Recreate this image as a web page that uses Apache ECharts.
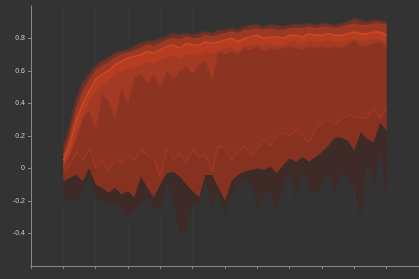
<!DOCTYPE html>
<html>
<head>
<meta charset="utf-8">
<script src="https://cdn.jsdelivr.net/npm/echarts@6/dist/echarts.min.js"></script>
<style>
html,body{margin:0;padding:0;background:#333333;}
#chart{width:419px;height:279px;}
</style>
</head>
<body>
<div id="chart"></div>
<script>
// x-axis categories (training steps), axis spans 0..120
const xCategories = [0,2,4,6,8,10,12,14,16,18,20,22,24,26,28,30,32,34,36,38,40,42,44,46,48,50,52,54,56,58,60,62,64,66,68,70,72,74,76,78,80,82,84,86,88,90,92,94,96,98,100,102,104,106,108,110,112,114,116,118,120];
// steps that carry data
const steps = [10,12,14,16,18,20,22,24,26,28,30,32,34,36,38,40,42,44,46,48,50,52,54,56,58,60,62,64,66,68,70,72,74,76,78,80,82,84,86,88,90,92,94,96,98,100,102,104,106,108,110];

// quantile-like lines, from top (max) to bottom (min)
const maxLine = [0.12,0.26,0.42,0.52,0.58,0.63,0.66,0.68,0.71,0.72,0.73,0.75,0.77,0.78,0.78,0.80,0.81,0.83,0.82,0.83,0.82,0.83,0.84,0.83,0.85,0.85,0.86,0.85,0.87,0.88,0.88,0.87,0.88,0.88,0.87,0.88,0.89,0.88,0.89,0.88,0.89,0.89,0.88,0.89,0.90,0.92,0.91,0.90,0.91,0.91,0.90];
const upperLine = [0.08,0.20,0.36,0.47,0.54,0.60,0.63,0.65,0.68,0.70,0.71,0.72,0.74,0.76,0.75,0.77,0.79,0.80,0.79,0.81,0.80,0.80,0.82,0.81,0.82,0.83,0.84,0.83,0.85,0.85,0.86,0.85,0.86,0.85,0.85,0.86,0.86,0.86,0.87,0.86,0.87,0.87,0.86,0.87,0.88,0.89,0.88,0.88,0.89,0.89,0.88];
const brightLine = [0.05,0.15,0.30,0.40,0.48,0.55,0.58,0.60,0.64,0.66,0.68,0.69,0.70,0.72,0.71,0.73,0.75,0.76,0.74,0.77,0.76,0.76,0.78,0.77,0.78,0.79,0.80,0.78,0.80,0.81,0.82,0.80,0.81,0.81,0.80,0.82,0.82,0.81,0.83,0.82,0.82,0.83,0.82,0.82,0.83,0.84,0.83,0.83,0.84,0.84,0.82];
const innerLine = [0.02,0.10,0.22,0.33,0.42,0.48,0.52,0.55,0.58,0.60,0.62,0.63,0.64,0.66,0.65,0.67,0.69,0.70,0.68,0.71,0.70,0.70,0.72,0.71,0.73,0.74,0.75,0.73,0.76,0.76,0.77,0.76,0.77,0.76,0.76,0.78,0.78,0.77,0.79,0.78,0.78,0.79,0.78,0.78,0.79,0.80,0.79,0.79,0.80,0.80,0.78];
const bodyTop = [0.00,0.08,0.18,0.30,0.36,0.24,0.45,0.42,0.30,0.50,0.40,0.56,0.58,0.52,0.58,0.50,0.60,0.55,0.60,0.63,0.58,0.64,0.66,0.54,0.72,0.70,0.72,0.70,0.74,0.73,0.75,0.72,0.74,0.73,0.74,0.75,0.74,0.73,0.75,0.74,0.75,0.74,0.75,0.74,0.76,0.79,0.75,0.76,0.77,0.78,0.74];
const lowerMid = [-0.02,0.02,0.10,0.05,0.12,0.00,0.05,-0.02,0.06,0.03,0.08,0.05,0.12,0.08,0.06,-0.06,0.12,0.06,0.09,0.04,0.12,0.07,0.08,-0.02,0.14,0.12,0.05,0.10,0.14,0.08,0.12,0.18,0.14,0.20,0.22,0.20,0.24,0.20,0.16,0.24,0.28,0.30,0.27,0.30,0.33,0.32,0.31,0.31,0.37,0.31,0.37];
const lowLine = [-0.08,-0.06,-0.04,-0.08,0.00,-0.10,-0.12,-0.15,-0.12,-0.16,-0.14,-0.18,-0.05,-0.12,-0.18,-0.10,-0.03,-0.02,-0.05,-0.10,-0.14,-0.18,-0.04,-0.04,-0.12,-0.20,-0.08,-0.04,-0.02,-0.01,0.00,-0.01,0.01,-0.03,0.02,0.06,0.04,0.07,0.04,0.07,0.10,0.14,0.19,0.19,0.17,0.11,0.22,0.18,0.16,0.28,0.23];
const minLine = [-0.20,-0.19,-0.20,-0.16,-0.04,-0.18,-0.20,-0.24,-0.22,-0.25,-0.30,-0.26,-0.22,-0.18,-0.24,-0.26,-0.08,-0.20,-0.41,-0.38,-0.21,-0.22,-0.07,-0.24,-0.15,-0.30,-0.16,-0.12,-0.07,-0.09,-0.24,-0.16,-0.14,-0.26,-0.10,-0.02,-0.18,-0.01,-0.12,-0.16,-0.10,-0.03,-0.15,-0.02,-0.05,-0.12,-0.30,0.05,-0.12,0.13,-0.22];

const yTicks = [-0.6,-0.4,-0.2,0,0.2,0.4,0.6,0.8,1.0];

const lines = [minLine, lowLine, lowerMid, bodyTop, innerLine, brightLine, upperLine, maxLine];
const fills = [null, '#3e2b27', '#873221', '#8c3422', '#a43a23', '#b73d21', '#9b3924', '#6f3427'];
const strokes = [null,
  {color:'#3e2b27', width:0, opacity:0},
  {color:'#a53820', width:1.2, opacity:1},
  {color:'#9c3823', width:1, opacity:1},
  {color:'#b63e22', width:1.2, opacity:1},
  {color:'#cf4723', width:1.5, opacity:1},
  {color:'#a83c25', width:1, opacity:1},
  {color:'rgba(110,50,38,0.55)', width:2.5, opacity:1}
];

const series = lines.map((ln, k) => {
  const data = xCategories.map(c => {
    const i = steps.indexOf(c);
    if (i < 0) return '-';
    return k === 0 ? ln[i] : +(ln[i] - lines[k-1][i]).toFixed(4);
  });
  const s = {
    type: 'line',
    stack: 'q',
    stackStrategy: 'all',
    symbol: 'none',
    showSymbol: false,
    smooth: false,
    connectNulls: false,
    data: data,
    z: 20 - k,
    silent: true
  };
  if (k === 0) {
    s.lineStyle = {opacity: 0};
  } else {
    s.lineStyle = strokes[k];
    s.areaStyle = {color: fills[k], opacity: 1};
  }
  return s;
});

const chart = echarts.init(document.getElementById('chart'), null, {renderer: 'canvas'});
chart.setOption({
  backgroundColor: '#333333',
  animation: false,
  grid: {left: 31, right: 0, top: 6, bottom: 13, containLabel: false, outerBoundsMode: 'none'},
  xAxis: {
    type: 'category',
    data: xCategories,
    boundaryGap: false,
    axisLine: {onZero: false, lineStyle: {color: '#8a8a8a', width: 1}},
    axisTick: {show: true, length: 3, interval: 4, lineStyle: {color: '#8a8a8a'}},
    axisLabel: {show: false, interval: 4},
    splitLine: {show: true, interval: 4, lineStyle: {color: 'rgba(255,255,255,0.018)', width: 1}}
  },
  yAxis: {
    type: 'value',
    min: yTicks[0], max: yTicks[yTicks.length-1], interval: 0.2,
    axisLine: {show: true, lineStyle: {color: '#8a8a8a', width: 1}},
    axisTick: {show: true, length: 3, lineStyle: {color: '#8a8a8a'}},
    axisLabel: {
      color: '#cfcfcf', fontSize: 7, margin: 6,
      showMinLabel: false, showMaxLabel: false,
      formatter: v => String(+v.toFixed(1))
    },
    splitLine: {show: false}
  },
  series: series
});
</script>
</body>
</html>
